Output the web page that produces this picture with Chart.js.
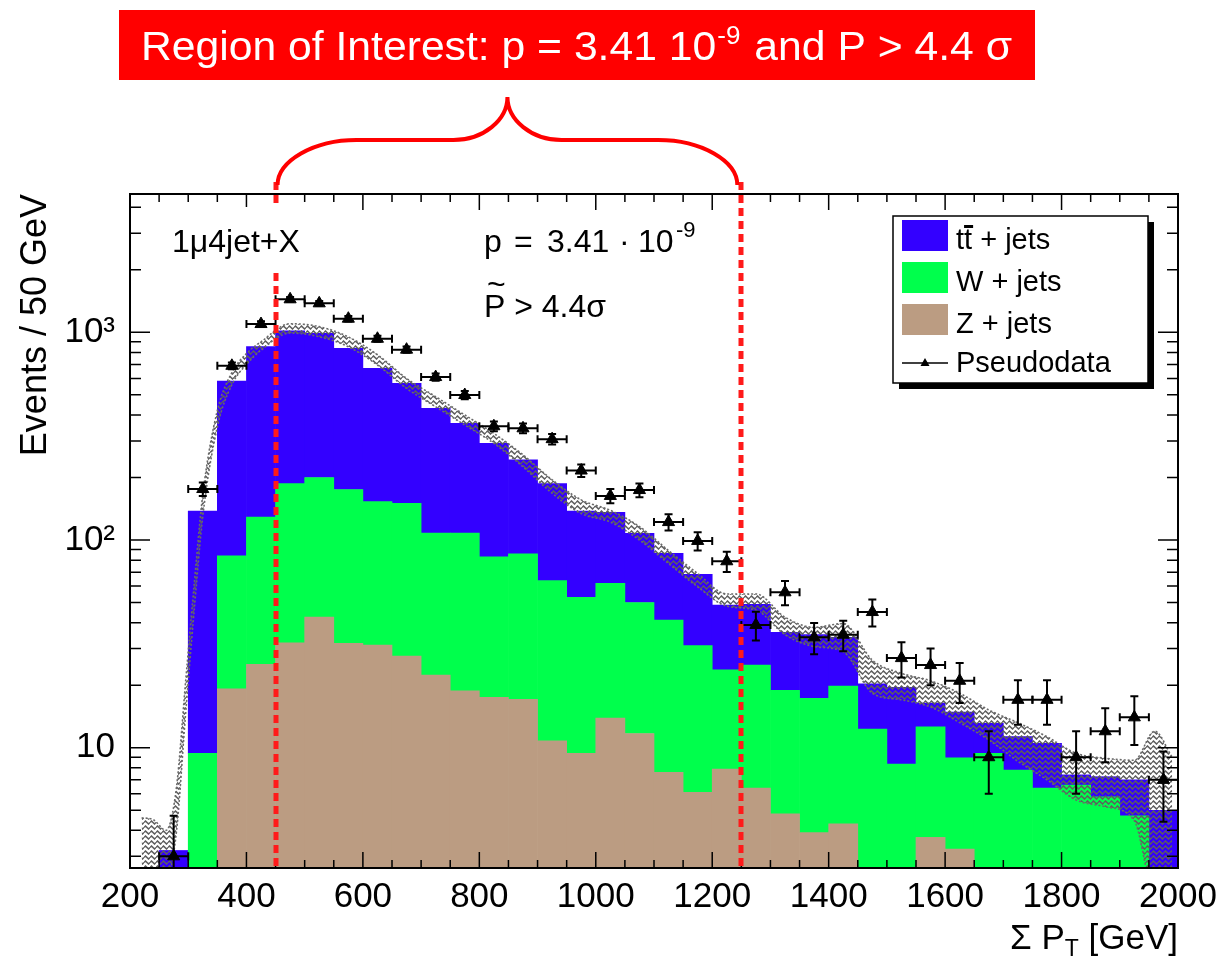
<!DOCTYPE html>
<html>
<head>
<meta charset="utf-8">
<title>Sum PT - 1mu4jet+X</title>
<script src="https://cdn.jsdelivr.net/npm/chart.js@4.4.1/dist/chart.umd.min.js"></script>
<style>
  body { margin: 0; background: #fff; }
  canvas { display: block; }
</style>
</head>
<body>
<canvas id="ptChart" width="1228" height="958"></canvas>
<script>
// centres of the 50 GeV bins (200 -> 2000 GeV)
const binCenters = [225, 275, 325, 375, 425, 475, 525, 575, 625, 675, 725, 775,
                    825, 875, 925, 975, 1025, 1075, 1125, 1175, 1225, 1275, 1325, 1375,
                    1425, 1475, 1525, 1575, 1625, 1675, 1725, 1775, 1825, 1875, 1925, 1975];
const binHalf = 25;

// stacked MC, per bin
const zJets = [0, 0, 0, 19.2, 25.2, 32, 42.5, 31.8, 31.2, 27.6, 22.4, 18.8,
               17.5, 17.1, 10.8, 9.4, 13.9, 11.7, 7.6, 6.1, 7.9, 6.4, 4.8, 3.9,
               4.3, 0, 0, 3.7, 3.25, 0, 0, 0, 0, 0, 0, 0];
const wJets = [0, 0, 9.4, 64.8, 103.8, 155, 157.5, 143.2, 121.8, 122.4, 85.6, 89.2,
               65.5, 68.6, 52.9, 43.6, 48, 38.3, 33.6, 24.9, 15.8, 18.6, 14.1, 13.4,
               15.5, 12.3, 8.35, 8.9, 5.7, 9.4, 7.8, 6.4, 6.6, 5.8, 4.7, 0];
const ttJets = [0, 3.2, 128.6, 499, 724, 831, 789, 662, 518, 418, 322, 257,
                209, 157.3, 123.3, 85, 74.1, 57.7, 45.1, 37.4, 24.9, 24, 17, 17.7,
                14.2, 8, 11.2, 3.8, 5.9, 3.7, 3.5, 4.1, 0.8, 1.45, 2.3, 5.0];

// pseudodata and its errors
const pseudoData = [null, 3.0, 176, 690, 1096, 1442, 1379, 1163, 931, 825, 609, 499,
                    353, 345, 306, 216, 163, 174, 122, 99, 79, 39, 56, 34,
                    35, 45, 27, 25, 21, 9, 17, 17, 9, 12, 14, 7];
const pseudoErr = [null, 1.7, 13.3, 26.3, 33.1, 38, 37.1, 34.1, 30.5, 28.7, 24.7, 22.3,
                   18.8, 18.6, 17.5, 14.7, 12.8, 13.2, 11, 9.9, 8.9, 6.2, 7.5, 5.8,
                   5.9, 6.7, 5.2, 5, 4.6, 3, 4.1, 4.1, 3, 3.5, 3.7, 2.6];

// smoothed MC uncertainty band
const bandX  = [220, 240, 262, 280, 295, 310, 325, 350, 375, 400, 425, 475, 525, 575,
                625, 675, 725, 775, 825, 875, 925, 975, 1025, 1075, 1125, 1175, 1225,
                1275, 1325, 1375, 1425, 1475, 1525, 1575, 1625, 1675, 1725, 1775, 1825,
                1875, 1925, 1960, 1990];
const bandHi = [4.6, 4.5, 4.0, 6.5, 20, 60, 165, 420, 640, 790, 900, 1100, 1065, 950,
                780, 600, 490, 400, 326, 257, 195, 156, 139, 116, 89, 69, 55,
                55, 42.5, 38, 39.6, 26.4, 22.8, 21, 18.3, 15.2, 13.2, 11.3, 9.4,
                8.9, 8.7, 12, 9];
const bandLo = [2.0, 2.0, 2.2, 4.0, 14, 45, 130, 350, 560, 700, 820, 992, 952, 852,
                696, 537, 438, 358, 292, 225, 168, 134, 122, 100, 77, 59.5, 48,
                46, 35, 30.7, 29, 18.3, 17, 15.7, 13.2, 10.9, 8.6, 7, 5.6,
                5.2, 4.45, 2.0, 2.0];

const xTicks = [200, 400, 600, 800, 1000, 1200, 1400, 1600, 1800, 2000];
const yTicks = [10, 100, 1000];
const yTickLabels = ['10', '10²', '10³'];
const roiEdges = [450, 1250];

const COL_TT = '#3300ff';
const COL_W = '#00ff4c';
const COL_Z = '#bb9c82';
const FONT = '"Liberation Sans", Arial, sans-serif';

function toXY(arr) {
    return arr.map((v, i) => ({ x: binCenters[i], y: v }));
}

// hatch like the ROOT fill style of the band
function makeHatch() {
    const c = document.createElement('canvas');
    c.width = 6;
    c.height = 5;
    const g = c.getContext('2d');
    g.strokeStyle = '#5e5e5e';
    g.lineWidth = 1.5;
    g.beginPath();
    g.moveTo(0, 2.5);
    g.lineTo(1.5, 1);
    g.lineTo(4.5, 4);
    g.lineTo(6, 2.5);
    g.stroke();
    return g.createPattern(c, 'repeat');
}

const rootStyle = {
    id: 'rootStyle',
    afterDatasetsDraw(chart) {
        const { ctx, chartArea: a, scales: { x, y } } = chart;

        // error bars
        ctx.save();
        ctx.beginPath();
        ctx.rect(a.left, a.top, a.width, a.height);
        ctx.clip();
        ctx.strokeStyle = '#000';
        ctx.lineWidth = 2;
        pseudoData.forEach((v, i) => {
            if (v == null) return;
            const px = x.getPixelForValue(binCenters[i]);
            const py = y.getPixelForValue(v);
            const xl = x.getPixelForValue(binCenters[i] - binHalf);
            const xr = x.getPixelForValue(binCenters[i] + binHalf);
            const lo = v - pseudoErr[i];
            const yl = lo > y.min ? y.getPixelForValue(lo) : a.bottom + 10;
            const yh = y.getPixelForValue(v + pseudoErr[i]);
            ctx.beginPath();
            ctx.moveTo(xl, py); ctx.lineTo(xr, py);
            ctx.moveTo(xl, py - 4); ctx.lineTo(xl, py + 4);
            ctx.moveTo(xr, py - 4); ctx.lineTo(xr, py + 4);
            ctx.moveTo(px, yl); ctx.lineTo(px, yh);
            ctx.moveTo(px - 4, yh); ctx.lineTo(px + 4, yh);
            ctx.moveTo(px - 4, yl); ctx.lineTo(px + 4, yl);
            ctx.stroke();
        });
        ctx.restore();

        // frame + inside ticks
        ctx.save();
        ctx.strokeStyle = '#000';
        ctx.lineWidth = 2;
        ctx.strokeRect(a.left, a.top, a.width, a.height);
        ctx.lineWidth = 1.5;
        ctx.beginPath();
        for (let v = x.min; v <= x.max; v += 50) {
            const px = x.getPixelForValue(v);
            const len = (v % 200 === 0) ? 16 : 8;
            ctx.moveTo(px, a.bottom); ctx.lineTo(px, a.bottom - len);
            ctx.moveTo(px, a.top); ctx.lineTo(px, a.top + len);
        }
        for (let d = 1; d <= 1000; d *= 10) {
            for (let m = 1; m <= 9; m++) {
                const v = m * d;
                if (v < y.min || v > y.max) continue;
                const py = y.getPixelForValue(v);
                const len = (m === 1) ? 20 : 11;
                ctx.moveTo(a.left, py); ctx.lineTo(a.left + len, py);
                ctx.moveTo(a.right, py); ctx.lineTo(a.right - len, py);
            }
        }
        ctx.stroke();

        // region of interest: dashed red lines
        ctx.strokeStyle = '#ff1a1a';
        ctx.lineWidth = 5;
        ctx.setLineDash([8, 5]);
        ctx.beginPath();
        roiEdges.forEach(e => {
            const px = Math.round(x.getPixelForValue(e));
            ctx.moveTo(px, 182);
            ctx.lineTo(px, a.bottom);
        });
        ctx.stroke();
        ctx.restore();
    },
    afterDraw(chart) {
        const { ctx, chartArea: a, scales: { x } } = chart;
        ctx.save();

        // title box
        ctx.fillStyle = '#ff0000';
        ctx.fillRect(119, 10, 916, 70);
        ctx.fillStyle = '#fff';
        ctx.textBaseline = 'alphabetic';
        const big = '41px ' + FONT;
        const small = '25px ' + FONT;
        const t1 = 'Region of Interest: p = 3.41 10';
        const t2 = '-9';
        const t3 = ' and P > 4.4 σ';
        ctx.font = big;
        const w1 = ctx.measureText(t1).width;
        const w3 = ctx.measureText(t3).width;
        ctx.font = small;
        const w2 = ctx.measureText(t2).width;
        const sx = 871 / (w1 + w2 + w3 + 3);
        ctx.save();
        ctx.translate(141, 60);
        ctx.scale(sx, 1);
        ctx.font = big;
        ctx.fillText(t1, 0, 0);
        ctx.font = small;
        ctx.fillText(t2, w1 + 1, -16);
        ctx.font = big;
        ctx.fillText(t3, w1 + w2 + 3, 0);
        ctx.restore();

        // curly brace over the region
        const L = x.getPixelForValue(roiEdges[0]) + 2;
        const R = x.getPixelForValue(roiEdges[1]) - 4;
        const mid = (L + R) / 2;
        ctx.strokeStyle = '#ff0000';
        ctx.lineWidth = 4;
        ctx.beginPath();
        ctx.moveTo(L, 185);
        ctx.bezierCurveTo(L, 161, L + 36, 140, L + 79, 140);
        ctx.lineTo(mid - 54, 140);
        ctx.bezierCurveTo(mid - 24, 140, mid, 120, mid, 97);
        ctx.bezierCurveTo(mid, 120, mid + 24, 140, mid + 54, 140);
        ctx.lineTo(R - 79, 140);
        ctx.bezierCurveTo(R - 36, 140, R, 161, R, 185);
        ctx.stroke();

        // texts inside the pad (the label pave hides the dashed line behind it)
        ctx.fillStyle = '#fff';
        ctx.fillRect(165, 207, 140, 66);
        ctx.fillStyle = '#000';
        ctx.font = '32px ' + FONT;
        ctx.fillText('1μ4jet+X', 172, 252);
        ctx.fillText('p', 484, 252);
        ctx.fillText('=', 514, 252);
        ctx.fillText('3.41', 547, 252);
        ctx.fillText('·', 619, 252);
        ctx.fillText('10', 638, 252);
        ctx.font = '22px ' + FONT;
        ctx.fillText('-9', 676, 237);
        ctx.font = '32px ' + FONT;
        ctx.fillText('P > 4.4σ', 484, 317);
        ctx.fillText('~', 487, 295);

        // legend
        ctx.fillStyle = '#000';
        ctx.fillRect(899, 222, 255, 167);
        ctx.fillStyle = '#fff';
        ctx.fillRect(893, 216, 255, 167);
        ctx.strokeStyle = '#000';
        ctx.lineWidth = 1.5;
        ctx.strokeRect(893, 216, 255, 167);
        const rows = [
            { c: COL_TT, t: 'tt + jets', y: 220 },
            { c: COL_W, t: 'W + jets', y: 262 },
            { c: COL_Z, t: 'Z + jets', y: 304 }
        ];
        ctx.font = '29px ' + FONT;
        rows.forEach(r => {
            ctx.fillStyle = r.c;
            ctx.fillRect(902, r.y, 46, 31);
            ctx.fillStyle = '#000';
            ctx.fillText(r.t, 956, r.y + 29);
        });
        // bar over the second t
        const wt = ctx.measureText('t').width;
        ctx.fillRect(956 + wt, 225, wt + 1, 3);
        ctx.beginPath();
        ctx.moveTo(902, 363); ctx.lineTo(948, 363);
        ctx.lineWidth = 1.5;
        ctx.stroke();
        ctx.beginPath();
        ctx.moveTo(925, 358); ctx.lineTo(929.5, 366); ctx.lineTo(920.5, 366);
        ctx.closePath();
        ctx.fill();
        ctx.fillText('Pseudodata', 956, 372);

        // axis titles
        ctx.font = '36px ' + FONT;
        ctx.save();
        ctx.translate(46, a.top);
        ctx.rotate(-Math.PI / 2);
        ctx.textAlign = 'right';
        ctx.fillText('Events / 50 GeV', 0, 0);
        ctx.restore();

        ctx.font = '35px ' + FONT;
        const p1 = 'Σ P';
        const p3 = ' [GeV]';
        const w1p = ctx.measureText(p1).width;
        const w3p = ctx.measureText(p3).width;
        ctx.font = '23px ' + FONT;
        const w2p = ctx.measureText('T').width;
        const xx = a.right - (w1p + w2p + w3p);
        ctx.font = '35px ' + FONT;
        ctx.fillText(p1, xx, 949);
        ctx.font = '23px ' + FONT;
        ctx.fillText('T', xx + w1p, 956);
        ctx.font = '35px ' + FONT;
        ctx.fillText(p3, xx + w1p + w2p, 949);

        ctx.restore();
    }
};

Chart.defaults.font.family = FONT;
Chart.defaults.color = '#000';

const hatch = makeHatch();
const barStyle = { borderWidth: 0, barPercentage: 1, categoryPercentage: 1, stack: 'mc', order: 5 };
const bandStyle = {
    type: 'line', order: 2, pointRadius: 0, borderColor: '#6a6a6a', borderWidth: 1.6,
    borderDash: [2, 2], cubicInterpolationMode: 'monotone'
};

new Chart(document.getElementById('ptChart'), {
    type: 'bar',
    data: {
        datasets: [
            { label: 'Z + jets', data: toXY(zJets), backgroundColor: COL_Z, ...barStyle },
            { label: 'W + jets', data: toXY(wJets), backgroundColor: COL_W, ...barStyle },
            { label: 'tt + jets', data: toXY(ttJets), backgroundColor: COL_TT, ...barStyle },
            {
                label: 'band low', ...bandStyle, stack: 'bandLo', fill: false,
                data: bandX.map((v, i) => ({ x: v, y: bandLo[i] }))
            },
            {
                label: 'band high', ...bandStyle, stack: 'bandHi', fill: '-1',
                backgroundColor: hatch,
                data: bandX.map((v, i) => ({ x: v, y: bandHi[i] }))
            },
            {
                type: 'scatter', label: 'Pseudodata', stack: 'data', order: 1,
                data: toXY(pseudoData).filter(p => p.y != null),
                pointStyle: 'triangle', pointRadius: 7,
                backgroundColor: '#000', borderColor: '#000'
            }
        ]
    },
    options: {
        responsive: false,
        animation: false,
        events: [],
        layout: { padding: { top: 194, right: 50, left: 0, bottom: 0 } },
        plugins: {
            legend: { display: false },
            tooltip: { enabled: false }
        },
        scales: {
            x: {
                type: 'linear',
                min: 200,
                max: 2000,
                offset: false,
                stacked: true,
                grid: { display: false, drawTicks: false },
                border: { display: false },
                afterBuildTicks: s => { s.ticks = xTicks.map(v => ({ value: v })); },
                afterFit: s => { s.height = 90; },
                ticks: {
                    autoSkip: false,
                    maxRotation: 0,
                    padding: 8,
                    font: { size: 35 },
                    callback: v => String(v)
                }
            },
            y: {
                type: 'logarithmic',
                min: 2.635,
                max: 4634,
                stacked: true,
                grid: { display: false, drawTicks: false },
                border: { display: false },
                afterBuildTicks: s => { s.ticks = yTicks.map(v => ({ value: v })); },
                afterFit: s => { s.width = 130; },
                ticks: {
                    autoSkip: false,
                    padding: 15,
                    font: { size: 35 },
                    callback: (v, i) => yTickLabels[i]
                }
            }
        }
    },
    plugins: [rootStyle]
});
</script>
</body>
</html>
